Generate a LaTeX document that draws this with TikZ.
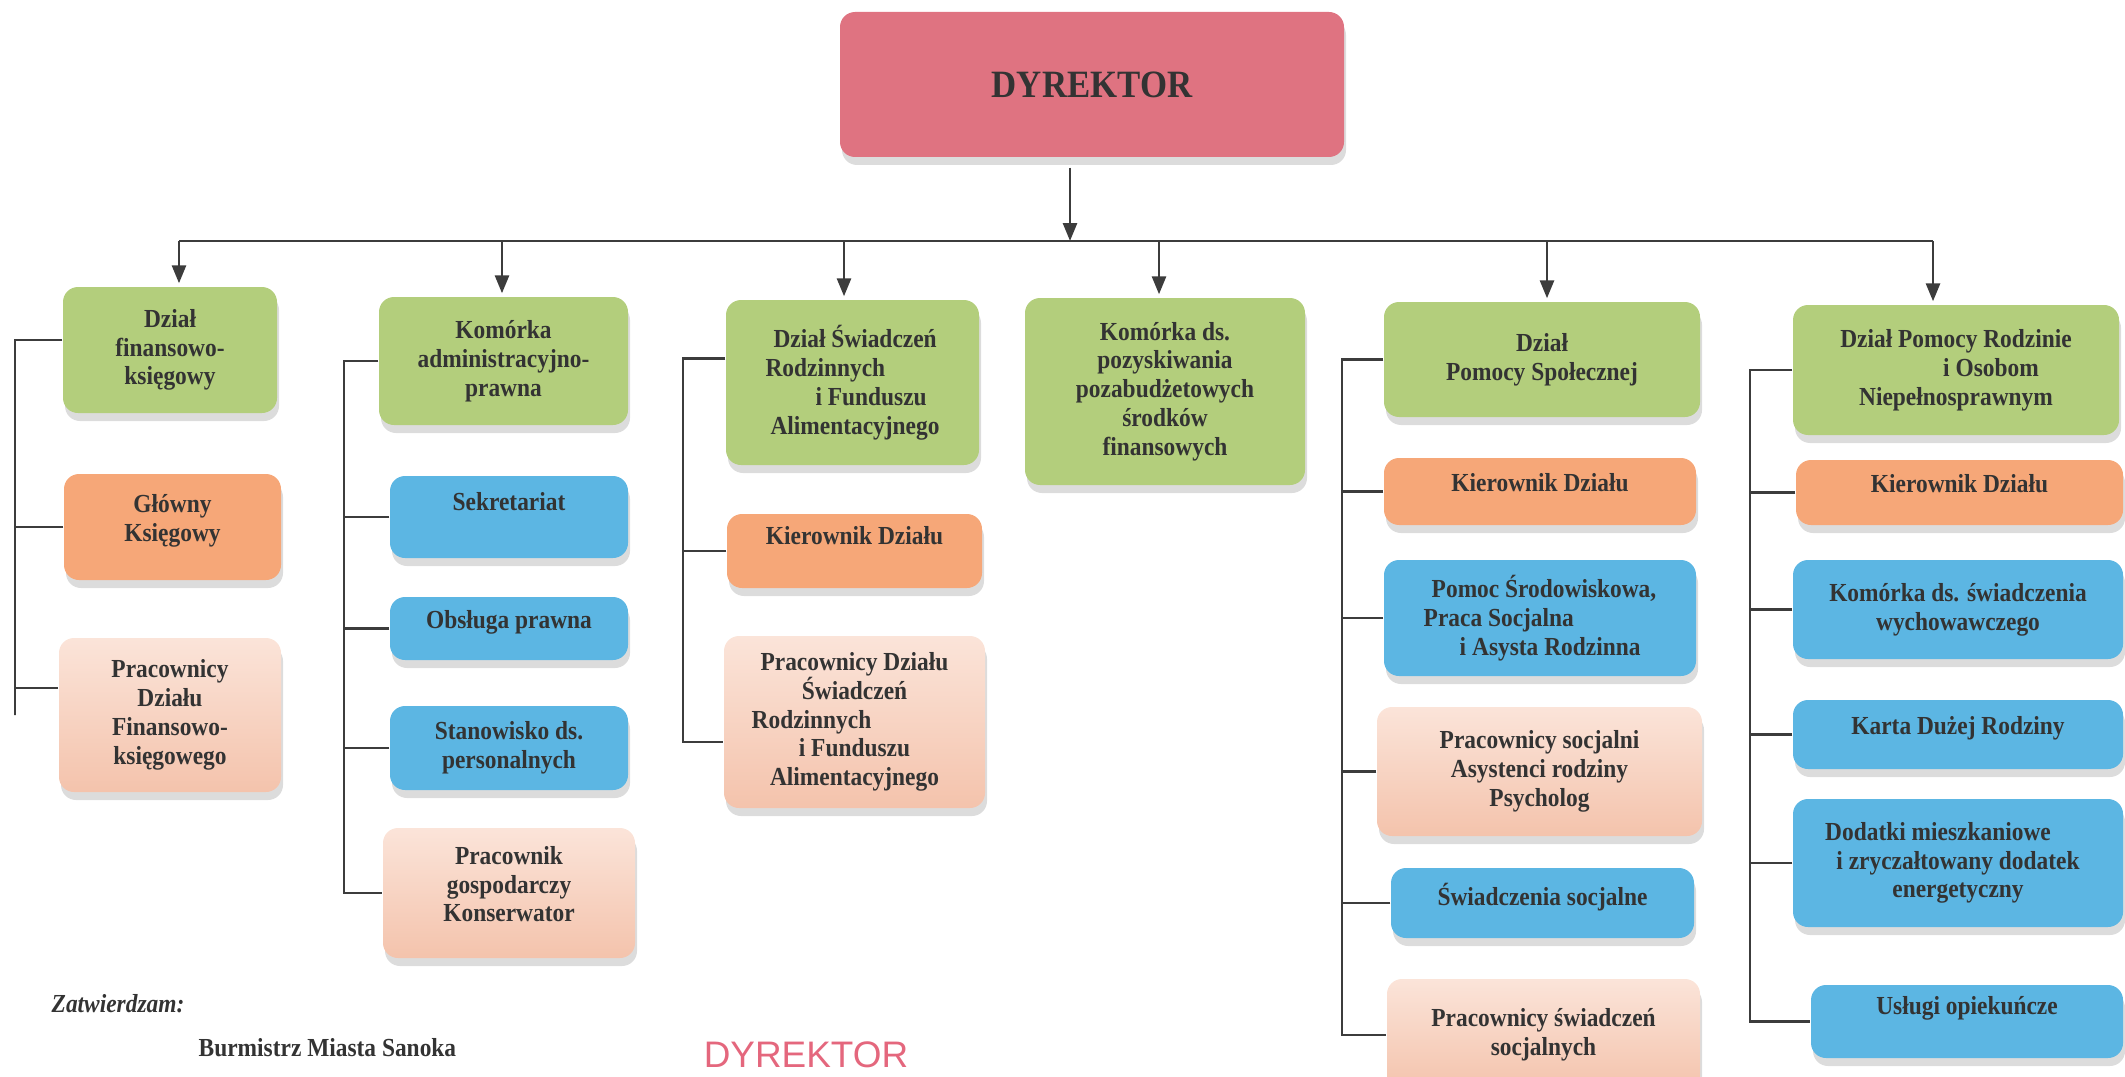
\documentclass[tikz,border=0pt]{standalone}
\usepackage{fontspec}
\setmainfont{Liberation Serif}[FakeStretch=0.9]
\setsansfont{Liberation Sans}
\usetikzlibrary{arrows.meta,shadows}

\definecolor{dyrred}{HTML}{DF7381}
\definecolor{dzgreen}{HTML}{B3CE7C}
\definecolor{kierorange}{HTML}{F6A778}
\definecolor{stblue}{HTML}{5CB6E3}
\definecolor{prtop}{HTML}{FBE4D9}
\definecolor{prbot}{HTML}{F4C3AC}
\definecolor{lin}{HTML}{3C3C3C}
\definecolor{txt}{HTML}{333333}
\definecolor{stamp}{HTML}{E4677D}

\begin{document}
\begin{tikzpicture}[
    box/.style={rounded corners=0.15cm, align=center, inner sep=2pt, text=txt,
      font=\fontsize{7.4}{8.2}\selectfont\bfseries,
      drop shadow={shadow xshift=0.02cm, shadow yshift=-0.08cm, fill=black!30, opacity=0.45}},
    dzial/.style={box, fill=dzgreen},
    kier/.style={box, fill=kierorange},
    stan/.style={box, fill=stblue},
    prac/.style={box, top color=prtop, bottom color=prbot},
    hoch/.style={text depth=0.32cm},
    lekko/.style={text depth=0.18cm},
    link/.style={draw=lin, line width=0.8pt},
    arr/.style={link, -{Triangle[length=1.8mm, width=1.4mm]}},
  ]
    \useasboundingbox (0,0) rectangle (21.25,-10.77);
    \clip (0,0) rectangle (21.25,-10.77);

    % dyrektor
    \node[box, fill=dyrred, minimum width=5.04cm, minimum height=1.45cm,
      font=\fontsize{11}{13}\selectfont\bfseries] (dyr) at (10.92,-0.845) {DYREKTOR};

    % dzialy
    \node[dzial, minimum width=2.14cm, minimum height=1.26cm] (fin) at (1.70,-3.50)
      {Dział\\finansowo-\\księgowy};
    \node[dzial, minimum width=2.49cm, minimum height=1.28cm] (adm) at (5.035,-3.61)
      {Komórka\\administracyjno-\\prawna};
    \node[dzial, minimum width=2.53cm, minimum height=1.65cm, align=left] (swr) at (8.525,-3.825)
      {\hspace*{0.08cm}Dział Świadczeń\\Rodzinnych\\\hspace*{0.5cm}i Funduszu\\\hspace*{0.05cm}Alimentacyjnego};
    \node[dzial, minimum width=2.80cm, minimum height=1.87cm] (poz) at (11.65,-3.915)
      {Komórka ds.\\pozyskiwania\\pozabudżetowych\\środków\\finansowych};
    \node[dzial, minimum width=3.16cm, minimum height=1.15cm] (pms) at (15.42,-3.595)
      {Dział\\Pomocy Społecznej};
    \node[dzial, minimum width=3.26cm, minimum height=1.30cm] (prn) at (19.56,-3.70)
      {Dział Pomocy Rodzinie\\\hspace*{0.7cm}i Osobom\\Niepełnosprawnym};

    % finansowo-ksiegowy
    \node[kier, lekko, minimum width=2.17cm, minimum height=1.06cm] (gk) at (1.725,-5.27)
      {Główny\\Księgowy};
    \node[prac, minimum width=2.22cm, minimum height=1.54cm] (pf) at (1.70,-7.15)
      {Pracownicy\\Działu\\Finansowo-\\księgowego};

    % administracyjno-prawna
    \node[stan, hoch, minimum width=2.38cm, minimum height=0.82cm] (sek) at (5.09,-5.17)
      {Sekretariat};
    \node[stan, lekko, minimum width=2.38cm, minimum height=0.63cm] (obs) at (5.09,-6.285)
      {Obsługa prawna};
    \node[stan, minimum width=2.38cm, minimum height=0.84cm] (sta) at (5.09,-7.48)
      {Stanowisko ds.\\personalnych};
    \node[prac, lekko, minimum width=2.52cm, minimum height=1.30cm] (kon) at (5.09,-8.93)
      {Pracownik\\gospodarczy\\Konserwator};

    % swiadczenia rodzinne
    \node[kier, hoch, minimum width=2.55cm, minimum height=0.74cm] (k3) at (8.545,-5.51)
      {Kierownik Działu};
    \node[prac, minimum width=2.61cm, minimum height=1.72cm] (p3) at (8.545,-7.22)
      {Pracownicy Działu\\Świadczeń\\\hspace*{-0.86cm}Rodzinnych\\i Funduszu\\Alimentacyjnego};

    % pomoc spoleczna
    \node[kier, lekko, minimum width=3.12cm, minimum height=0.67cm] (k5) at (15.40,-4.915)
      {Kierownik Działu};
    \node[stan, minimum width=3.12cm, minimum height=1.16cm, align=left] (psr) at (15.40,-6.18)
      {\hspace*{0.08cm}Pomoc Środowiskowa,\\Praca Socjalna\\\hspace*{0.36cm}i Asysta Rodzinna};
    \node[prac, minimum width=3.25cm, minimum height=1.29cm] (psoc) at (15.395,-7.715)
      {Pracownicy socjalni\\Asystenci rodziny\\Psycholog};
    \node[stan, lekko, minimum width=3.03cm, minimum height=0.70cm] (sws) at (15.425,-9.03)
      {Świadczenia socjalne};
    \node[prac, minimum width=3.13cm, minimum height=1.12cm] (pws) at (15.435,-10.35)
      {Pracownicy świadczeń\\socjalnych};

    % pomoc rodzinie
    \node[kier, lekko, minimum width=3.27cm, minimum height=0.65cm] (k6) at (19.595,-4.925)
      {Kierownik Działu};
    \node[stan, minimum width=3.30cm, minimum height=0.99cm] (kom6) at (19.58,-6.095)
      {Komórka ds. świadczenia\\wychowawczego};
    \node[stan, lekko, minimum width=3.30cm, minimum height=0.69cm] (kdr) at (19.58,-7.345)
      {Karta Dużej Rodziny};
    \node[stan, minimum width=3.30cm, minimum height=1.28cm] (dod) at (19.58,-8.63)
      {\hspace*{-0.4cm}Dodatki mieszkaniowe\\i zryczałtowany dodatek\\energetyczny};
    \node[stan, hoch, minimum width=3.12cm, minimum height=0.73cm] (usl) at (19.67,-10.215)
      {Usługi opiekuńcze};

    % szyna
    \coordinate (busL) at (1.79,-2.41);
    \coordinate (busR) at (19.33,-2.41);
    \draw[link] (busL) -- (busR);
    \draw[arr, shorten <=0.1cm] ([xshift=-0.22cm]dyr.south) -- ([xshift=-0.22cm]dyr.south |- busL);
    \foreach \n/\x in {fin/1.79, adm/5.02, swr/8.44, poz/11.59, pms/15.47, prn/19.33}
      \draw[arr, shorten >=0.03cm] (\x,-2.41) -- (\x,0 |- \n.north);

    % klamry
    \coordinate (c1) at (0.15,0);
    \coordinate (c2) at (3.44,0);
    \coordinate (c3) at (6.83,0);
    \coordinate (c5) at (13.42,0);
    \coordinate (c6) at (17.50,0);

    \draw[link] ([yshift=0.1cm]fin.west) -| (c1 |- pf) -- ([yshift=0.27cm]pf.west -| c1) -- ([yshift=0.27cm]pf.west);
    \draw[link] (gk.west) -- (gk.west -| c1);

    \draw[link] (adm.west) -| (c2 |- kon.west) -- (kon.west);
    \foreach \n in {sek, obs, sta}
      \draw[link] (\n.west) -- (\n.west -| c2);

    \draw[link] ([yshift=0.24cm]swr.west) -| (c3 |- p3) -- ([yshift=-0.2cm]p3.west -| c3) -- ([yshift=-0.2cm]p3.west);
    \draw[link] (k3.west) -- (k3.west -| c3);

    \draw[link] (pms.west) -| (c5 |- pws.west) -- (pws.west);
    \foreach \n in {k5, psr, psoc, sws}
      \draw[link] (\n.west) -- (\n.west -| c5);

    \draw[link] (prn.west) -| (c6 |- usl.west) -- (usl.west);
    \foreach \n in {k6, kom6, kdr, dod}
      \draw[link] (\n.west) -- (\n.west -| c6);

    % podpisy
    \node[anchor=west, inner sep=0pt, text=txt, font=\fontsize{7.4}{9}\selectfont\bfseries\itshape]
      (zatw) at (0.51,-10.04) {Zatwierdzam:};
    \node[anchor=west, inner sep=0pt, text=txt, font=\fontsize{7.4}{9}\selectfont\bfseries]
      (burm) at (1.98,-10.48) {Burmistrz Miasta Sanoka};
    \node[inner sep=0pt, text=stamp, font=\sffamily\fontsize{10.5}{12}\selectfont]
      (pieczec) at (8.06,-10.55) {DYREKTOR};
  \end{tikzpicture}
\end{document}
